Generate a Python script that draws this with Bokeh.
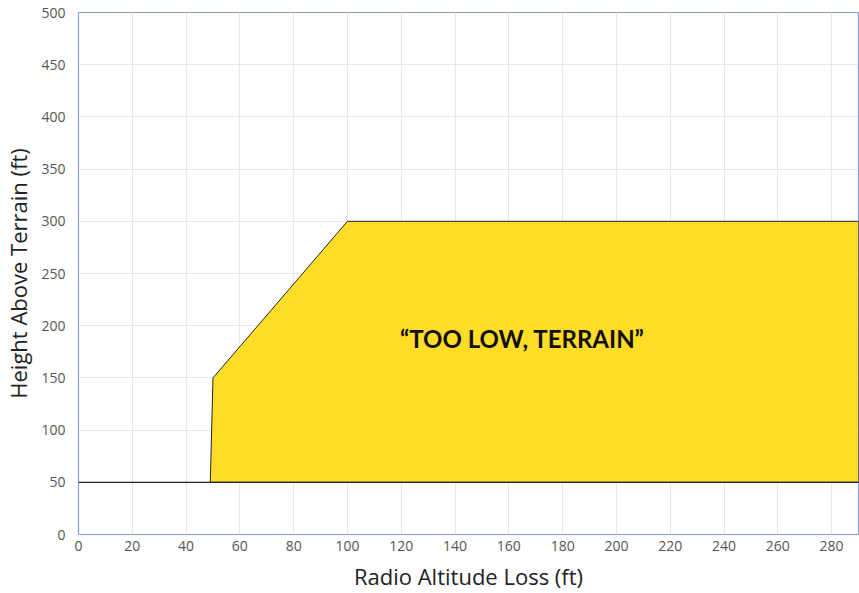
from bokeh.plotting import figure
from bokeh.models import Range1d, SingleIntervalTicker, Label
from bokeh.embed import file_html
from bokeh.resources import INLINE

# Data
zone_x = [49, 50, 100, 290, 290]
zone_y = [50, 150, 300, 300, 50]
floor_x = [0, 290]
floor_y = [50, 50]
zone_label = "\u201cTOO LOW, TERRAIN\u201d"
label_pos = (165, 188)

p = figure(width=859, height=593, output_backend="svg", toolbar_location=None,
           x_range=Range1d(0, 290), y_range=Range1d(0, 500),
           min_border_left=78, min_border_right=1, min_border_top=12, min_border_bottom=59)

p.patch(zone_x, zone_y, fill_color="#FFDC28", line_color="#1f2333", line_width=1)
p.line(floor_x, floor_y, line_color="#1f2333", line_width=1.2)

p.add_layout(Label(x=label_pos[0], y=label_pos[1], text=zone_label,
                   text_font="Lato", text_font_style="bold", text_font_size="24px",
                   text_align="center", text_baseline="middle", text_color="#111111"))

p.xaxis.ticker = SingleIntervalTicker(interval=20)
p.yaxis.ticker = SingleIntervalTicker(interval=50)
for ax in (p.xaxis[0], p.yaxis[0]):
    ax.axis_line_color = None
    ax.major_tick_line_color = None
    ax.minor_tick_line_color = None
    ax.major_tick_out = 0
    ax.major_tick_in = 0
    ax.major_label_text_font = "Open Sans"
    ax.major_label_text_font_size = "14px"
    ax.major_label_text_color = "#555555"
    ax.axis_label_text_font = "Open Sans"
    ax.axis_label_text_font_style = "normal"
    ax.axis_label_text_font_size = "22px"
    ax.axis_label_text_color = "#222222"
p.xaxis.axis_label = "Radio Altitude Loss (ft)"
p.yaxis.axis_label = "Height Above Terrain (ft)"
p.xaxis.major_label_standoff = 2
p.yaxis.major_label_standoff = 9
p.xaxis.axis_label_standoff = 7
p.yaxis.axis_label_standoff = 5

p.grid.grid_line_color = "#e8e8e8"
p.grid.grid_line_width = 1
p.outline_line_color = "#8C9BDA"
p.outline_line_width = 1.2
p.background_fill_color = "white"
p.border_fill_color = "white"

open("out.html", "w").write(file_html(p, INLINE))
